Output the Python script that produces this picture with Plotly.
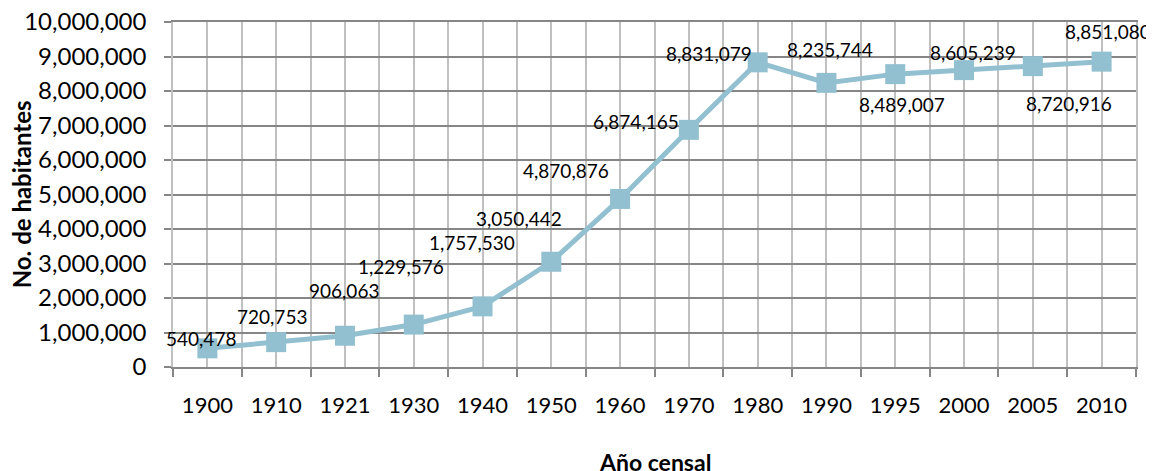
import plotly.graph_objects as go

years = ["1900", "1910", "1921", "1930", "1940", "1950", "1960", "1970",
         "1980", "1990", "1995", "2000", "2005", "2010"]
population = [540478, 720753, 906063, 1229576, 1757530, 3050442, 4870876,
              6874165, 8831079, 8235744, 8489007, 8605239, 8720916, 8851080]

# label offsets in pixels (dx, dy up)
label_dx = [-6, -4, -1, -13, -11, -32, -54, -53, -49, 4, 7, 9, 36, 6]
label_dy = [12, 28, 47, 60, 66, 45, 30, 10, 11, 35, -28, 20, -35, 32]

y_ticks = list(range(0, 10000001, 1000000))

FONT = "Lato, Carlito, Calibri, sans-serif"
LINE_COLOR = "#92C0D0"

xs = list(range(len(years)))

fig = go.Figure()
fig.add_trace(go.Scatter(
    x=xs, y=population, mode="lines+markers",
    line=dict(color=LINE_COLOR, width=5),
    marker=dict(symbol="square", size=20, color=LINE_COLOR),
    hoverinfo="x+y", showlegend=False,
))

for i, v in enumerate(population):
    fig.add_annotation(
        x=xs[i], y=v, text=f"{v:,}", showarrow=False,
        xanchor="center", yanchor="middle",
        xshift=label_dx[i], yshift=label_dy[i] - 2,
        font=dict(family=FONT, size=19, color="#000000"),
    )

fig.add_annotation(
    xref="paper", yref="paper", x=0.5, y=-0.274, yanchor="middle",
    text="<b>Año censal</b>", showarrow=False,
    font=dict(family=FONT, size=23, color="#000000"),
)
fig.add_annotation(
    xref="paper", yref="paper", x=-0.157, y=0.5, xanchor="center",
    text="<b>No. de habitantes</b>", showarrow=False, textangle=-90,
    font=dict(family=FONT, size=24, color="#000000"),
)

fig.update_xaxes(
    range=[-0.5, len(years) - 0.5],
    tickmode="array", tickvals=xs, ticktext=years,
    ticks="", showgrid=True, gridcolor="#C0C0C0", gridwidth=1.5,
    minor=dict(tick0=-0.5, dtick=1, ticks="outside", ticklen=8,
               tickcolor="#868686", tickwidth=2,
               showgrid=True, gridcolor="#C0C0C0", gridwidth=1.5),
    showline=True, linecolor="#868686", linewidth=2, mirror=True,
    tickfont=dict(family=FONT, size=22, color="#000000"),
    ticklabelstandoff=18, zeroline=False, fixedrange=True, automargin=False,
)
fig.update_yaxes(
    range=[0, 10000000], tickmode="array", tickvals=y_ticks,
    ticktext=[f"{t:,}" for t in y_ticks],
    ticks="outside", ticklen=7, tickcolor="#868686", tickwidth=2,
    showgrid=True, gridcolor="#868686", gridwidth=2,
    showline=True, linecolor="#C0C0C0", linewidth=1.5, mirror=True,
    tickfont=dict(family=FONT, size=24, color="#000000"),
    ticklabelstandoff=13, ticklabeloverflow="allow",
    zeroline=False, fixedrange=True, automargin=False,
)

# the page body adds an 8px offset, so the figure is sized to fit the window
fig.update_layout(
    width=1146, height=463,
    margin=dict(l=165, r=18, t=14, b=104),
    paper_bgcolor="white", plot_bgcolor="white",
    font=dict(family=FONT),
)

fig.write_html("out.html")
